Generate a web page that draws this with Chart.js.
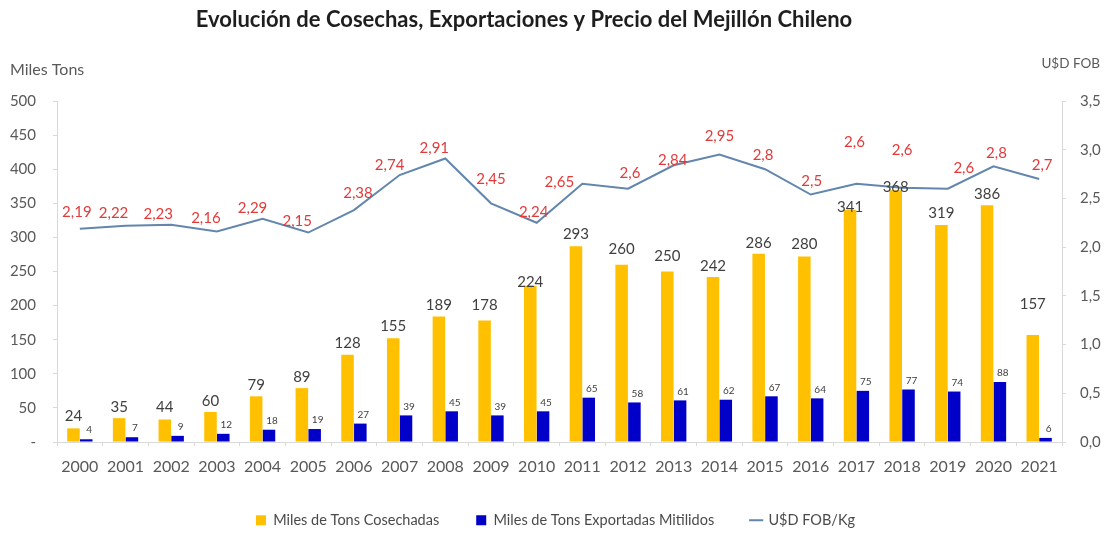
<!DOCTYPE html>
<html>
<head>
<meta charset="utf-8">
<script src="https://cdn.jsdelivr.net/npm/chart.js@4"></script>
<style>
    body { margin: 0; background: #fff; }
</style>
</head>
<body>
<canvas id="chart1" width="1111" height="533"></canvas>
<script>
const years = ['2000', '2001', '2002', '2003', '2004', '2005', '2006', '2007', '2008', '2009', '2010',
    '2011', '2012', '2013', '2014', '2015', '2016', '2017', '2018', '2019', '2020', '2021'];

// bar heights as drawn in the picture
const harvest = [20, 35, 33, 44, 67, 79, 128, 152, 184, 178, 229, 287, 260, 250, 242, 276, 272, 340, 369, 318, 347, 157];
// the numbers printed above the bars
const harvestText = ['24', '35', '44', '60', '79', '89', '128', '155', '189', '178', '224', '293', '260', '250', '242',
    '286', '280', '341', '368', '319', '386', '157'];
const exported = [4, 7, 9, 12, 18, 19, 27, 39, 45, 39, 45, 65, 58, 61, 62, 67, 64, 75, 77, 74, 88, 6];
const price = [2.19, 2.22, 2.23, 2.16, 2.29, 2.15, 2.38, 2.74, 2.91, 2.45, 2.25, 2.65, 2.6, 2.84, 2.95, 2.8,
    2.54, 2.65, 2.61, 2.6, 2.83, 2.7];
const priceText = ['2,19', '2,22', '2,23', '2,16', '2,29', '2,15', '2,38', '2,74', '2,91', '2,45', '2,24', '2,65',
    '2,6', '2,84', '2,95', '2,8', '2,5', '2,6', '2,6', '2,6', '2,8', '2,7'];

const leftTicks = [0, 50, 100, 150, 200, 250, 300, 350, 400, 450, 500];
const rightTicks = [0, 0.5, 1, 1.5, 2, 2.5, 3, 3.5];

// label placement (px) : how far each label sits from its bar top / line point
const harvestRise = [12, 11, 12, 11, 11, 11, 12, 12, 11, 15, 4, 12, 16, 15, 11, 11, 12, 3, 3, 12, 11, 31];
const priceShift = [[-3, -16], [-12, -13], [-13, -11], [-11, -13], [-10, -11], [-11, -11], [4, -17], [-10, -10],
    [-11, -10], [0, -24], [-3, -11], [-23, -2], [2, -16], [-1, -5], [0, -18], [-2, -14], [1, -13], [-2, -42],
    [0, -38], [16, -21], [3, -13], [3, -14]];

const FONT = 'Lato, "Liberation Sans", sans-serif';
const GREY = '#595959';

const valueLabels = {
    id: 'valueLabels',
    afterDatasetsDraw(chart) {
        const ctx = chart.ctx;
        ctx.save();
        ctx.textAlign = 'center';
        ctx.textBaseline = 'middle';

        ctx.font = '15px ' + FONT;
        ctx.fillStyle = '#404040';
        chart.getDatasetMeta(0).data.forEach((bar, i) => {
            ctx.fillText(harvestText[i], bar.x, bar.y - harvestRise[i]);
        });

        ctx.font = '10px ' + FONT;
        chart.getDatasetMeta(1).data.forEach((bar, i) => {
            ctx.fillText(String(exported[i]), bar.x + 3, bar.y - 9);
        });

        ctx.font = '15px ' + FONT;
        ctx.fillStyle = '#e23a3a';
        chart.getDatasetMeta(2).data.forEach((pt, i) => {
            ctx.fillText(priceText[i], pt.x + priceShift[i][0], pt.y + priceShift[i][1]);
        });
        ctx.restore();
    }
};

const headings = {
    id: 'headings',
    afterDraw(chart) {
        const {ctx, chartArea} = chart;
        ctx.save();
        ctx.textBaseline = 'middle';
        ctx.fillStyle = '#1e1e1e';
        ctx.font = 'bold 22px ' + FONT;
        ctx.textAlign = 'center';
        ctx.fillText('Evolución de Cosechas, Exportaciones y Precio del Mejillón Chileno', chartArea.left + 467, 20);

        ctx.fillStyle = GREY;
        ctx.font = '16px ' + FONT;
        ctx.textAlign = 'left';
        ctx.fillText('Miles Tons', 10, chartArea.top - 31);
        ctx.font = '13.5px ' + FONT;
        ctx.textAlign = 'right';
        ctx.fillText('U$D FOB', 1100, chartArea.top - 37);
        ctx.restore();
    }
};

const legendPad = 37;

const config = {
    data: {
        labels: years,
        datasets: [{
            type: 'bar',
            label: 'Miles de Tons Cosechadas',
            data: harvest,
            backgroundColor: '#FFC000',
            yAxisID: 'y',
            order: 1,
            categoryPercentage: 0.56,
            barPercentage: 0.98
        }, {
            type: 'bar',
            label: 'Miles de Tons Exportadas Mitilidos',
            data: exported,
            backgroundColor: '#0000C8',
            yAxisID: 'y',
            order: 1,
            categoryPercentage: 0.56,
            barPercentage: 0.98
        }, {
            type: 'line',
            label: 'U$D FOB/Kg',
            data: price,
            borderColor: '#6286ae',
            backgroundColor: '#6286ae',
            borderWidth: 2,
            pointRadius: 0,
            tension: 0,
            yAxisID: 'y1',
            order: 0
        }]
    },
    options: {
        responsive: false,
        animation: false,
        layout: {
            padding: {top: 101, left: 0, right: 0, bottom: -4.5}
        },
        plugins: {
            tooltip: {enabled: false},
            title: {display: false},
            legend: {
                position: 'bottom',
                labels: {
                    color: '#4a4a4a',
                    font: {family: FONT, size: 14.5},
                    padding: legendPad,
                    usePointStyle: true,
                    boxWidth: 10,
                    boxHeight: 10,
                    sort: (a, b) => a.datasetIndex - b.datasetIndex,
                    generateLabels: chart => Chart.defaults.plugins.legend.labels.generateLabels(chart)
                        .map(item => ({...item, pointStyle: item.datasetIndex === 2 ? 'line' : 'rect'}))
                }
            }
        },
        scales: {
            x: {
                grid: {drawOnChartArea: false, tickLength: 4, color: '#d9d9d9'},
                border: {color: '#d9d9d9'},
                ticks: {color: GREY, font: {family: FONT, size: 16}, padding: 11, maxRotation: 0},
                afterFit(scale) { scale.height = 71 - legendPad; }
            },
            y: {
                position: 'left',
                min: 0,
                max: 500,
                grid: {drawOnChartArea: false, tickLength: 4, color: '#d9d9d9'},
                border: {color: '#d9d9d9'},
                afterBuildTicks(scale) { scale.ticks = leftTicks.map(v => ({value: v})); },
                ticks: {
                    color: GREY,
                    font: {family: FONT, size: 15},
                    padding: 17,
                    callback: v => v === 0 ? '-' : String(v)
                },
                afterFit(scale) { scale.width = 57; }
            },
            y1: {
                position: 'right',
                min: 0,
                max: 3.5,
                grid: {drawOnChartArea: false, tickLength: 4, color: '#d9d9d9'},
                border: {color: '#d9d9d9'},
                afterBuildTicks(scale) { scale.ticks = rightTicks.map(v => ({value: v})); },
                ticks: {
                    color: GREY,
                    font: {family: FONT, size: 15},
                    padding: 14,
                    callback: v => v.toFixed(1).replace('.', ',')
                },
                afterFit(scale) { scale.width = 49; }
            }
        }
    },
    plugins: [valueLabels, headings]
};

const ctx1 = document.getElementById('chart1').getContext('2d');
const chart1 = new Chart(ctx1, config);
</script>
</body>
</html>
